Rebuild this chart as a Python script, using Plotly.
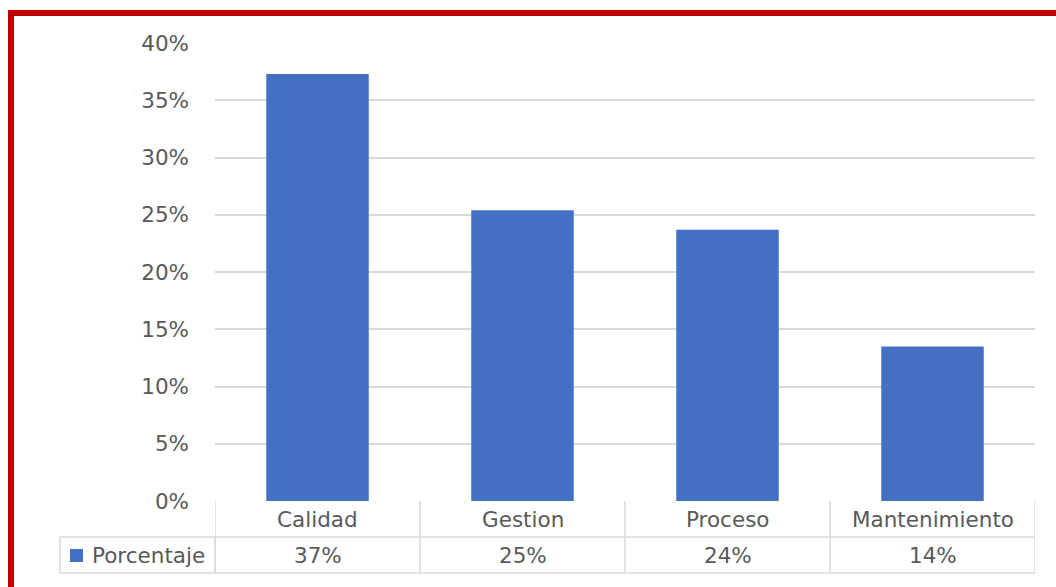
import plotly.graph_objects as go

categories = ["Calidad", "Gestion", "Proceso", "Mantenimiento"]
values = [0.373, 0.254, 0.237, 0.135]
value_labels = ["37%", "25%", "24%", "14%"]
series_name = "Porcentaje"

W, H = 1056, 587
L, R, T, B = 215, 1035, 43, 501
PW, PH = R - L, B - T

def px(x):
    return (x - L) / PW

def py(y):
    return (B - y) / PH

BAR = "#4470c3"
GRID = "#d9d9d9"
TXT = "#595959"
FONT = "DejaVu Sans"
FS = 21.5

fig = go.Figure()
fig.add_trace(go.Bar(
    x=categories, y=values, width=0.5,
    marker=dict(color=BAR, line=dict(width=0)),
    name=series_name, showlegend=False,
))

shapes = []
for yy in [537, 573]:
    shapes.append(dict(type="line", xref="paper", yref="paper",
                       x0=0, x1=1, y0=py(yy), y1=py(yy),
                       line=dict(color=GRID, width=1.5), layer="below"))
shapes.append(dict(type="rect", xref="paper", yref="paper",
                   x0=px(60), x1=px(215), y0=py(537), y1=py(573),
                   line=dict(color=GRID, width=1.5), layer="below"))
for i in range(len(categories) + 1):
    shapes.append(dict(type="line", xref="x", yref="paper",
                       x0=i - 0.5, x1=i - 0.5, y0=0, y1=py(573),
                       line=dict(color=GRID, width=1.5), layer="below"))
shapes.append(dict(type="rect", xref="paper", yref="paper",
                   x0=px(70), x1=px(83), y0=py(562), y1=py(549),
                   fillcolor=BAR, line=dict(width=0)))
shapes.append(dict(type="rect", xref="paper", yref="paper",
                   x0=px(11), x1=px(1080), y0=py(13), y1=py(620),
                   line=dict(color="#c00000", width=6)))

annotations = []
for c, v in zip(categories, value_labels):
    annotations.append(dict(x=c, xref="x", y=py(519), yref="paper", text=c,
                            showarrow=False, font=dict(size=FS, color=TXT, family=FONT),
                            xanchor="center", yanchor="middle"))
    annotations.append(dict(x=c, xref="x", y=py(555), yref="paper", text=v,
                            showarrow=False, font=dict(size=FS, color=TXT, family=FONT),
                            xanchor="center", yanchor="middle"))
annotations.append(dict(x=px(90), xref="paper", y=py(555), yref="paper", text=series_name,
                        showarrow=False, font=dict(size=FS, color=TXT, family=FONT),
                        xanchor="left", yanchor="middle"))

fig.update_layout(
    width=W, height=H,
    margin=dict(l=L, r=W - R, t=T, b=H - B, pad=0),
    paper_bgcolor="white", plot_bgcolor="white",
    showlegend=False,
    bargap=0.5,
    shapes=shapes, annotations=annotations,
    xaxis=dict(type="category", range=[-0.5, 3.5], showticklabels=False,
               showgrid=False, zeroline=False, showline=False, ticks=""),
    yaxis=dict(range=[0, 0.40], tickvals=[0, 0.05, 0.10, 0.15, 0.20, 0.25, 0.30, 0.35, 0.40],
               tickformat=".0%", showgrid=True, gridcolor=GRID, gridwidth=1.5,
               zeroline=False, showline=False, ticks="", ticklabelstandoff=25,
               tickfont=dict(size=FS, color=TXT, family=FONT)),
)

fig.write_html("out.html")
